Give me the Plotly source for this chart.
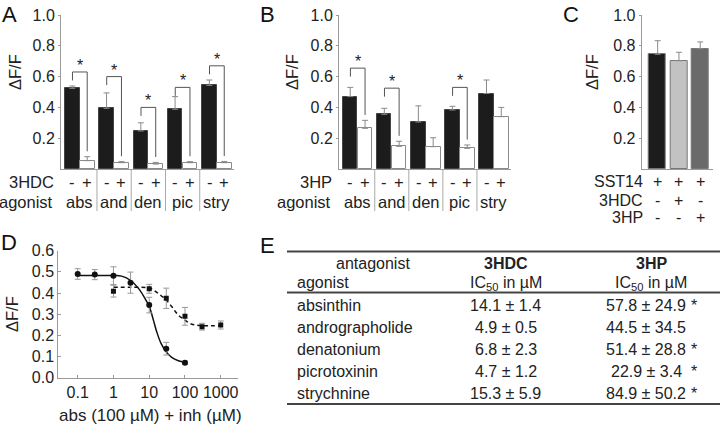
import plotly.graph_objects as go

W, H = 720, 426
FONT = "Liberation Sans, Arial, sans-serif"
TXT = "#222222"
AX = "#9a9a9a"
FS = 16
FL = 16.5

# ---------------- data ----------------
agonists = ["abs", "and", "den", "pic", "stry"]

# Panel A (3HDC)
a_ctrl = [0.524, 0.394, 0.247, 0.388, 0.543]
a_ctrl_err = [0.015, 0.10, 0.053, 0.082, 0.035]
a_inh = [0.054, 0.041, 0.032, 0.041, 0.041]
a_inh_err = [0.026, 0.007, 0.011, 0.007, 0.008]
a_bracket = [0.63, 0.60, 0.40, 0.53, 0.67]

# Panel B (3HP)
b_ctrl = [0.47, 0.355, 0.305, 0.383, 0.49]
b_ctrl_err = [0.06, 0.039, 0.105, 0.024, 0.088]
b_inh = [0.264, 0.147, 0.145, 0.134, 0.34]
b_inh_err = [0.052, 0.033, 0.058, 0.022, 0.06]
b_bracket = [0.655, 0.525, None, 0.53, None]

# Panel C
c_vals = [0.745, 0.703, 0.781]
c_err = [0.088, 0.055, 0.044]
c_colors = ["#1c1c1c", "#c2c2c2", "#6a6a6a"]
c_rows = ["SST14", "3HDC", "3HP"]
c_signs = [["+", "+", "+"], ["-", "+", "-"], ["-", "-", "+"]]

# Panel D
d_hdc_x = [0.1, 0.3, 1, 3, 10, 30, 100]
d_hdc_y = [0.49, 0.487, 0.482, 0.449, 0.343, 0.137, 0.071]
d_hdc_e = [0.025, 0.024, 0.042, 0.05, 0.037, 0.03, 0.008]
d_hp_x = [1, 10, 30, 100, 300, 1000]
d_hp_y = [0.409, 0.42, 0.375, 0.29, 0.241, 0.249]
d_hp_e = [0.028, 0.021, 0.048, 0.042, 0.016, 0.019]
# fitted curves
fit_hdc_x = [0.1, 0.3, 1, 1.7, 3.1, 5.0, 7.6, 10.1, 13.1, 16.2, 21.4, 29.5, 42.6, 65.5, 100]
fit_hdc_y = [0.483, 0.483, 0.483, 0.480, 0.458, 0.422, 0.375, 0.335, 0.272, 0.217, 0.162, 0.123, 0.096, 0.080, 0.072]
fit_hp_x = [1, 3, 10, 14, 22, 30, 43, 65, 100, 150, 300, 1000]
fit_hp_y = [0.427, 0.427, 0.424, 0.411, 0.386, 0.367, 0.335, 0.296, 0.272, 0.254, 0.246, 0.246]
d_ticks = [0.1, 1, 10, 100, 1000]

# Panel E table
t_agonists = ["absinthin", "andrographolide", "denatonium", "picrotoxinin", "strychnine"]
t_hdc = ["14.1 ± 1.4", "4.9 ± 0.5", "6.8 ± 2.3", "4.7 ± 1.2", "15.3 ± 5.9"]
t_hp = ["57.8 ± 24.9", "44.5 ± 34.5", "51.4 ± 28.8", "22.9 ± 3.4", "84.9 ± 50.2"]
t_sig = [True, False, True, True, True]

# ---------------- helpers ----------------
def px(x):
    return x / W

def py(y):
    return 1 - y / H

fig = go.Figure()
annotations = []
shapes = []

def bar_panel(xa, ya, ctrl, ctrl_err, inh, inh_err, brackets, rowlabel, xdom):
    xs = list(range(len(agonists)))
    fig.add_trace(go.Bar(
        x=xs, y=ctrl, width=0.42, offset=-0.43,
        marker=dict(color="#1c1c1c", line=dict(color="#444444", width=1)),
        error_y=dict(type="data", array=ctrl_err, arrayminus=[0] * 5, symmetric=False,
                     color="#8a8a8a", thickness=1, width=3),
        xaxis=xa, yaxis=ya, showlegend=False))
    fig.add_trace(go.Bar(
        x=xs, y=inh, width=0.43, offset=0.0,
        marker=dict(color="#ffffff", line=dict(color="#8a8a8a", width=1)),
        error_y=dict(type="data", array=inh_err, arrayminus=[0] * 5, symmetric=False,
                     color="#8a8a8a", thickness=1, width=3),
        xaxis=xa, yaxis=ya, showlegend=False))
    for i, h in enumerate(brackets):
        if h is None:
            continue
        xl, xr = i - 0.215, i + 0.215
        low = inh[i] + inh_err[i] + 0.035
        shapes.append(dict(type="path", xref=xa, yref=ya,
                           path=f"M {xl} {h - 0.055} L {xl} {h} L {xr} {h} L {xr} {low}",
                           line=dict(color="#555555", width=1)))
        annotations.append(dict(x=i, y=h, xref=xa, yref=ya, text="*",
                                yanchor="bottom", yshift=-4,
                                font=dict(size=FS, color=TXT)))
    for i in range(len(agonists) - 1):
        shapes.append(dict(type="line", xref=xa, yref="paper", x0=i + 0.5, x1=i + 0.5,
                           y0=py(169), y1=py(211), line=dict(color="#a8a8a8", width=1)))
    for i, ag in enumerate(agonists):
        annotations.append(dict(x=i - 0.215, y=py(182), xref=xa, yref="paper", text="-",
                                font=dict(size=FL, color=TXT)))
        annotations.append(dict(x=i + 0.215, y=py(182), xref=xa, yref="paper", text="+",
                                font=dict(size=FL, color=TXT)))
        annotations.append(dict(x=i, y=py(202), xref=xa, yref="paper", text=ag,
                                font=dict(size=FL, color=TXT)))
    annotations.append(dict(x=px(xdom - 5), y=py(182), text=rowlabel, xanchor="right",
                            font=dict(size=FL, color=TXT)))
    annotations.append(dict(x=px(xdom - 6), y=py(202), text="agonist", xanchor="right",
                            font=dict(size=FL, color=TXT)))

bar_panel("x", "y", a_ctrl, a_ctrl_err, a_inh, a_inh_err, a_bracket, "3HDC", 61)
bar_panel("x2", "y2", b_ctrl, b_ctrl_err, b_inh, b_inh_err, b_bracket, "3HP", 339)

# Panel C
fig.add_trace(go.Bar(
    x=[0, 1, 2], y=c_vals, width=0.8,
    marker=dict(color=c_colors, line=dict(color="#777777", width=1)),
    error_y=dict(type="data", array=c_err, arrayminus=[0, 0, 0], symmetric=False,
                 color="#8a8a8a", thickness=1, width=3),
    xaxis="x3", yaxis="y3", showlegend=False))
for r, (lab, signs) in enumerate(zip(c_rows, c_signs)):
    yy = py(182 + 18 * r)
    annotations.append(dict(x=px(645), y=yy, text=lab, xanchor="right",
                            font=dict(size=FS, color=TXT)))
    for i, s in enumerate(signs):
        annotations.append(dict(x=i, y=yy, xref="x3", yref="paper", text=s,
                                font=dict(size=FS, color=TXT)))

# Panel D
fig.add_trace(go.Scatter(x=fit_hdc_x, y=fit_hdc_y, mode="lines",
                         line=dict(color="#111111", width=1.5, shape="spline"),
                         xaxis="x4", yaxis="y4", showlegend=False, hoverinfo="skip"))
fig.add_trace(go.Scatter(x=fit_hp_x, y=fit_hp_y, mode="lines",
                         line=dict(color="#111111", width=1.5, dash="4px,3px", shape="spline"),
                         xaxis="x4", yaxis="y4", showlegend=False, hoverinfo="skip"))
fig.add_trace(go.Scatter(x=d_hdc_x, y=d_hdc_y, mode="markers",
                         marker=dict(symbol="circle", size=6, color="#111111"),
                         error_y=dict(type="data", array=d_hdc_e, color="#999999", thickness=1, width=3),
                         xaxis="x4", yaxis="y4", showlegend=False))
fig.add_trace(go.Scatter(x=d_hp_x, y=d_hp_y, mode="markers",
                         marker=dict(symbol="square", size=5, color="#111111"),
                         error_y=dict(type="data", array=d_hp_e, color="#999999", thickness=1, width=3),
                         xaxis="x4", yaxis="y4", showlegend=False))
annotations.append(dict(x=px(150), y=py(415), text="abs (100 µM) + inh (µM)",
                        font=dict(size=17, color=TXT)))

# y titles
for xc, yc in [(15, 72), (292, 72), (592, 72), (12, 314)]:
    annotations.append(dict(x=px(xc), y=py(yc), text="ΔF/F", textangle=-90,
                            font=dict(size=FL, color=TXT)))

# panel letters
for lab, xc, yc in [("A", 9, 14), ("B", 267, 14), ("C", 571, 14), ("D", 9, 242), ("E", 267, 245)]:
    annotations.append(dict(x=px(xc), y=py(yc), text=lab, font=dict(size=22, color="#111111")))

# Panel E table
for yl in [251.5, 292.5, 404]:
    shapes.append(dict(type="line", xref="paper", yref="paper", x0=px(287), x1=px(720),
                       y0=py(yl), y1=py(yl), line=dict(color="#444444", width=2)))
tf = dict(size=FS, color=TXT)
annotations += [
    dict(x=px(373), y=py(263), text="antagonist", font=tf),
    dict(x=px(295), y=py(282), text="agonist", xanchor="left", font=tf),
    dict(x=px(506), y=py(263), text="<b>3HDC</b>", font=tf),
    dict(x=px(651), y=py(263), text="<b>3HP</b>", font=tf),
    dict(x=px(506), y=py(283), text="IC<sub>50</sub> in µM", font=tf),
    dict(x=px(651), y=py(283), text="IC<sub>50</sub> in µM", font=tf),
]
for r in range(5):
    yy = py(305 + 22 * r)
    annotations.append(dict(x=px(295), y=yy, text=t_agonists[r], xanchor="left", font=tf))
    annotations.append(dict(x=px(506), y=yy, text=t_hdc[r], font=tf))
    annotations.append(dict(x=px(646), y=yy, text=t_hp[r], font=tf))
    if t_sig[r]:
        annotations.append(dict(x=px(694), y=yy, text="*", font=tf))
for a in annotations:
    a.setdefault("xref", "paper")
    a.setdefault("yref", "paper")
    a.setdefault("xanchor", "center")
    a.setdefault("yanchor", "middle")
    a.setdefault("showarrow", False)

# ---------------- axes ----------------
bar_y = dict(range=[0, 1.0], tickvals=[0.2, 0.4, 0.6, 0.8, 1.0],
             ticktext=["0.2", "0.4", "0.6", "0.8", "1.0"],
             showline=True, linecolor=AX, linewidth=1, ticks="outside", ticklen=2, tickcolor=AX,
             showgrid=False, zeroline=False, tickfont=dict(size=FS, color=TXT), automargin=False,
             domain=[py(169), py(15)])
bar_x = dict(range=[-0.55, 4.5], showline=True, linecolor=AX, linewidth=1, showticklabels=False,
             ticks="", showgrid=False, zeroline=False, automargin=False)

fig.update_layout(
    width=W, height=H, margin=dict(l=0, r=0, t=0, b=0, pad=0), autosize=False,
    paper_bgcolor="white", plot_bgcolor="white",
    font=dict(family=FONT, size=FS, color=TXT),
    bargap=0, barmode="overlay",
    xaxis=dict(bar_x, domain=[px(61), px(234)], anchor="y"),
    yaxis=dict(bar_y, anchor="x"),
    xaxis2=dict(bar_x, domain=[px(339), px(511)], anchor="y2"),
    yaxis2=dict(bar_y, anchor="x2"),
    xaxis3=dict(bar_x, range=[-0.75, 2.6], domain=[px(641.7), px(713)], anchor="y3"),
    yaxis3=dict(bar_y, anchor="x3"),
    xaxis4=dict(type="log", range=[-1.543, 3.475], domain=[px(58.3), px(237.7)], anchor="y4",
                tickvals=d_ticks, ticktext=["0.1", "1", "10", "100", "1000"],
                showline=True, linecolor=AX, linewidth=1, ticks="inside", ticklen=3, tickcolor=AX,
                showgrid=False, zeroline=False, tickfont=dict(size=FS, color=TXT), automargin=False),
    yaxis4=dict(range=[0, 0.6], tickvals=[0, 0.1, 0.2, 0.3, 0.4, 0.5, 0.6],
                ticktext=["0.0", "0.1", "0.2", "0.3", "0.4", "0.5", "0.6"],
                domain=[py(377.7), py(250.7)], anchor="x4",
                showline=True, linecolor=AX, linewidth=1, ticks="inside", ticklen=3, tickcolor=AX,
                showgrid=False, zeroline=False, tickfont=dict(size=FS, color=TXT), automargin=False),
    annotations=annotations, shapes=shapes,
)

fig.write_html("out.html", config={"responsive": False, "displayModeBar": False},
               post_script="document.body.style.margin='0';document.body.style.padding='0';document.body.style.overflow='hidden';")
